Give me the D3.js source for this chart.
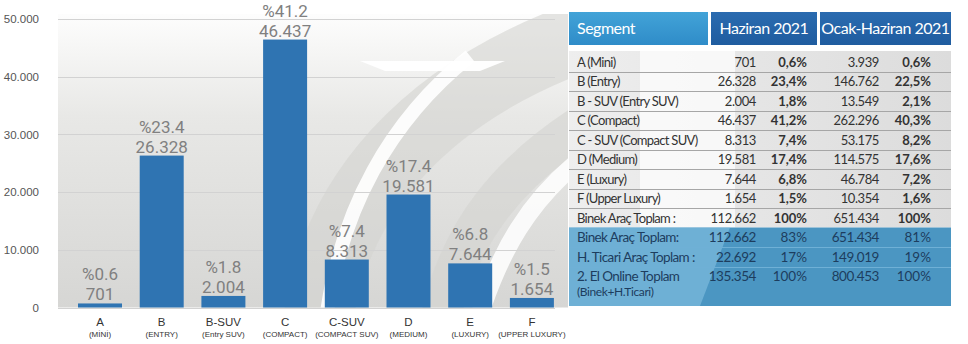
<!DOCTYPE html>
<html lang="tr">
<head>
<meta charset="utf-8">
<script src="https://cdn.jsdelivr.net/npm/d3@7"></script>
<style>
  html, body { margin: 0; padding: 0; background: #ffffff; }
  svg { display: block; }
</style>
</head>
<body>
<svg id="chart" width="968" height="344"></svg>
<script>
// Segment sales, June 2021
const categories = ["A", "B", "B-SUV", "C", "C-SUV", "D", "E", "F"];
const subLabels = ["(MİNİ)", "(ENTRY)", "(Entry SUV)", "(COMPACT)", "(COMPACT SUV)", "(MEDIUM)", "(LUXURY)", "(UPPER LUXURY)"];
const units = [701, 26328, 2004, 46437, 8313, 19581, 7644, 1654];
const shares = [0.6, 23.4, 1.8, 41.2, 7.4, 17.4, 6.8, 1.5];
const yTicks = [0, 10000, 20000, 30000, 40000, 50000];

// Summary table
const tableHeaders = ["Segment", "Haziran 2021", "Ocak-Haziran 2021"];
const segments = ["A (Mini)", "B (Entry)", "B - SUV (Entry SUV)", "C (Compact)", "C - SUV (Compact SUV)", "D (Medium)", "E (Luxury)", "F (Upper Luxury)", "Binek Araç Toplam :"];
const juneUnits = [701, 26328, 2004, 46437, 8313, 19581, 7644, 1654, 112662];
const juneShares = [0.6, 23.4, 1.8, 41.2, 7.4, 17.4, 6.8, 1.5, 100];
const ytdUnits = [3939, 146762, 13549, 262296, 53175, 114575, 46784, 10354, 651434];
const ytdShares = [0.6, 22.5, 2.1, 40.3, 8.2, 17.6, 7.2, 1.6, 100];
const totalLabels = ["Binek Araç Toplam:", "H. Ticari Araç Toplam :", "2. El Online Toplam"];
const totalNote = "(Binek+H.Ticari)";
const totalJuneUnits = [112662, 22692, 135354];
const totalJuneShares = [83, 17, 100];
const totalYtdUnits = [651434, 149019, 800453];
const totalYtdShares = [81, 19, 100];

const tr = d3.formatLocale({ decimal: ",", thousands: ".", grouping: [3], currency: ["", ""] });
const fmtInt = tr.format(",d");
const fmtPct = v => (Number.isInteger(v) && v >= 10 ? tr.format("d")(v) : tr.format(".1f")(v)) + "%";
const fmtBarPct = v => "%" + d3.format(".1f")(v);

const svg = d3.select("#chart");
const defs = svg.append("defs");

// ---------- bar chart ----------
const plot = { left: 58, right: 568, top: 14, bottom: 307.5 };

const x = d3.scaleBand()
  .domain(categories)
  .range([59.5, 572.4])
  .paddingInner(0.287)
  .paddingOuter(0.3);

const y = d3.scaleLinear()
  .domain([0, 50000])
  .range([plot.bottom, 19]);

const bg = defs.append("linearGradient").attr("id", "plotBg")
  .attr("x1", 0).attr("y1", 0).attr("x2", 0).attr("y2", 1);
bg.append("stop").attr("offset", "0%").attr("stop-color", "#fdfdfd");
bg.append("stop").attr("offset", "12%").attr("stop-color", "#f6f6f5");
bg.append("stop").attr("offset", "35%").attr("stop-color", "#e8e8e6");
bg.append("stop").attr("offset", "100%").attr("stop-color", "#d6d6d4");

defs.append("clipPath").attr("id", "plotClip")
  .append("rect")
  .attr("x", plot.left).attr("y", plot.top)
  .attr("width", plot.right - plot.left).attr("height", plot.bottom - plot.top);

svg.append("rect")
  .attr("x", plot.left).attr("y", plot.top)
  .attr("width", plot.right - plot.left).attr("height", plot.bottom - plot.top)
  .attr("fill", "url(#plotBg)");

// faint logo swooshes in the background
const mark = svg.append("g").attr("clip-path", "url(#plotClip)");
mark.append("path")
  .attr("d", "M 318 320 C 335 200, 420 90, 600 30")
  .attr("fill", "none").attr("stroke", "#d3d3d1").attr("stroke-width", 70).attr("opacity", 0.6);
mark.append("path")
  .attr("d", "M 326 320 C 340 210, 390 120, 470 56")
  .attr("fill", "none").attr("stroke", "#ffffff").attr("stroke-width", 14).attr("opacity", 0.9);
mark.append("path")
  .attr("d", "M 440 320 C 460 230, 510 170, 590 120")
  .attr("fill", "none").attr("stroke", "#d3d3d1").attr("stroke-width", 40).attr("opacity", 0.6);
mark.append("path")
  .attr("d", "M 478 320 C 500 250, 530 200, 580 160")
  .attr("fill", "none").attr("stroke", "#ffffff").attr("stroke-width", 18).attr("opacity", 0.85);
mark.append("path")
  .attr("d", "M 360 61 L 505 61 L 480 71 L 385 71 Z")
  .attr("fill", "#ffffff").attr("opacity", 0.95);

// gridlines
svg.append("g")
  .selectAll("line")
  .data(yTicks)
  .join("line")
  .attr("x1", plot.left).attr("x2", 555)
  .attr("y1", d => Math.round(y(d)) + 0.5).attr("y2", d => Math.round(y(d)) + 0.5)
  .attr("stroke", "#d2d2d2").attr("stroke-width", 1);

// y axis labels
const yAxis = d3.axisLeft(y).tickValues(yTicks).tickFormat(fmtInt).tickSize(0).tickPadding(0);
const yg = svg.append("g").attr("transform", "translate(39,0)").call(yAxis);
yg.select(".domain").remove();
yg.selectAll("text")
  .attr("font-family", "'Liberation Sans', Arial, sans-serif")
  .attr("font-size", 11.5)
  .attr("fill", "#555555");

// bars
svg.append("g")
  .selectAll("rect")
  .data(categories)
  .join("rect")
  .attr("x", d => x(d))
  .attr("width", x.bandwidth())
  .attr("y", (d, i) => y(units[i]))
  .attr("height", (d, i) => y(0) - y(units[i]))
  .attr("fill", "#2f74b2");

// value labels
const labels = svg.append("g")
  .attr("font-family", "Roboto, sans-serif")
  .attr("font-size", 17)
  .attr("fill", "#808080")
  .attr("text-anchor", "middle");
labels.selectAll("text.pct")
  .data(categories)
  .join("text")
  .attr("class", "pct")
  .attr("x", d => x(d) + x.bandwidth() / 2)
  .attr("y", (d, i) => y(units[i]) - 23)
  .text((d, i) => fmtBarPct(shares[i]));
labels.selectAll("text.val")
  .data(categories)
  .join("text")
  .attr("class", "val")
  .attr("x", d => x(d) + x.bandwidth() / 2)
  .attr("y", (d, i) => y(units[i]) - 3)
  .text((d, i) => fmtInt(units[i]));

// category labels
const xl = svg.append("g")
  .attr("font-family", "'Liberation Sans', Arial, sans-serif")
  .attr("fill", "#333333")
  .attr("text-anchor", "middle");
xl.selectAll("text.cat")
  .data(categories)
  .join("text")
  .attr("class", "cat")
  .attr("x", d => x(d) + x.bandwidth() / 2)
  .attr("y", 326)
  .attr("font-size", 11.5)
  .text(d => d);
xl.selectAll("text.sub")
  .data(categories)
  .join("text")
  .attr("class", "sub")
  .attr("x", d => x(d) + x.bandwidth() / 2)
  .attr("y", 336.5)
  .attr("font-size", 8)
  .text((d, i) => subLabels[i]);

// ---------- table ----------
const T = { left: 569, right: 951, headTop: 12, headBottom: 45, bodyTop: 52, rowH: 19.5 };
const col = { seg: 577, junU: 756, junP: 807, ytdU: 879, ytdP: 931 };
const cells = [[569, 708], [711, 817], [820, 951]];
const tFont = "Lato, 'Noto Sans', sans-serif";

const hg1 = defs.append("linearGradient").attr("id", "headLight").attr("x1", 0).attr("y1", 0).attr("x2", 0).attr("y2", 1);
hg1.append("stop").attr("offset", "0%").attr("stop-color", "#42a3d8");
hg1.append("stop").attr("offset", "100%").attr("stop-color", "#2f8cc8");
const hg2 = defs.append("linearGradient").attr("id", "headDark").attr("x1", 0).attr("y1", 0).attr("x2", 0).attr("y2", 1);
hg2.append("stop").attr("offset", "0%").attr("stop-color", "#2a6bb0");
hg2.append("stop").attr("offset", "100%").attr("stop-color", "#1f5c9f");

svg.append("g").selectAll("rect")
  .data(cells)
  .join("rect")
  .attr("x", d => d[0]).attr("y", T.headTop)
  .attr("width", d => d[1] - d[0]).attr("height", T.headBottom - T.headTop)
  .attr("fill", (d, i) => i === 0 ? "url(#headLight)" : "url(#headDark)");

svg.append("g")
  .attr("font-family", tFont).attr("font-size", 16).attr("fill", "#ffffff")
  .selectAll("text")
  .data(tableHeaders)
  .join("text")
  .attr("x", (d, i) => i === 0 ? col.seg : (cells[i][0] + cells[i][1]) / 2)
  .attr("y", 34)
  .attr("text-anchor", (d, i) => i === 0 ? "start" : "middle")
  .attr("letter-spacing", -0.5)
  .text(d => d);

// body background
const bodyBottom = T.bodyTop + T.rowH * segments.length;
const bodyBg = defs.append("linearGradient").attr("id", "bodyBg").attr("x1", 0).attr("y1", 0).attr("x2", 1).attr("y2", 0);
bodyBg.append("stop").attr("offset", "0%").attr("stop-color", "#eeeeee");
bodyBg.append("stop").attr("offset", "100%").attr("stop-color", "#dcdcdc");
svg.append("rect")
  .attr("x", T.left).attr("y", T.bodyTop - 1)
  .attr("width", T.right - T.left).attr("height", bodyBottom - T.bodyTop + 1)
  .attr("fill", "url(#bodyBg)");
svg.append("path")
  .attr("d", `M 640 ${T.bodyTop - 1} L 735 ${T.bodyTop - 1} L 735 ${bodyBottom} L 640 ${bodyBottom} Z`)
  .attr("fill", "#ffffff").attr("opacity", 0.7);

// blue totals block
const blueTop = bodyBottom;
const blueBottom = 306;
svg.append("rect")
  .attr("x", T.left).attr("y", blueTop)
  .attr("width", T.right - T.left).attr("height", blueBottom - blueTop)
  .attr("fill", "#4b96c2");
svg.append("path")
  .attr("d", `M ${T.left} ${blueTop} L 730 ${blueTop} L 700 ${blueBottom} L ${T.left} ${blueBottom} Z`)
  .attr("fill", "#8cc6e6").attr("opacity", 0.55);

// row separators
svg.append("g").selectAll("line")
  .data(d3.range(1, segments.length))
  .join("line")
  .attr("x1", T.left).attr("x2", T.right)
  .attr("y1", i => Math.round(T.bodyTop + T.rowH * i) + 0.5)
  .attr("y2", i => Math.round(T.bodyTop + T.rowH * i) + 0.5)
  .attr("stroke", "#a6a6a6");
svg.append("g").selectAll("line")
  .data([1, 2])
  .join("line")
  .attr("x1", T.left).attr("x2", T.right)
  .attr("y1", i => Math.round(blueTop + T.rowH * i) + 0.5)
  .attr("y2", i => Math.round(blueTop + T.rowH * i) + 0.5)
  .attr("stroke", "#6fb0d6");

// segment rows
const body = svg.append("g").attr("font-family", tFont).attr("font-size", 13).attr("fill", "#333333");
const rowY = i => T.bodyTop + T.rowH * i + 14.5;
body.selectAll("text.seg").data(segments).join("text").attr("class", "seg")
  .attr("x", col.seg).attr("y", (d, i) => rowY(i)).attr("letter-spacing", -0.7).text(d => d);
body.selectAll("text.ju").data(juneUnits).join("text").attr("class", "ju")
  .attr("x", col.junU).attr("y", (d, i) => rowY(i)).attr("text-anchor", "end").attr("letter-spacing", -0.4).text(d => fmtInt(d));
body.selectAll("text.jp").data(juneShares).join("text").attr("class", "jp")
  .attr("x", col.junP).attr("y", (d, i) => rowY(i)).attr("text-anchor", "end").attr("font-weight", 700).text(d => fmtPct(d));
body.selectAll("text.yu").data(ytdUnits).join("text").attr("class", "yu")
  .attr("x", col.ytdU).attr("y", (d, i) => rowY(i)).attr("text-anchor", "end").attr("letter-spacing", -0.4).text(d => fmtInt(d));
body.selectAll("text.yp").data(ytdShares).join("text").attr("class", "yp")
  .attr("x", col.ytdP).attr("y", (d, i) => rowY(i)).attr("text-anchor", "end").attr("font-weight", 700).text(d => fmtPct(d));

// totals rows
const tot = svg.append("g").attr("font-family", tFont).attr("font-size", 13.5).attr("fill", "#1d3d5e");
const totY = i => blueTop + T.rowH * i + 14.5;
tot.selectAll("text.tl").data(totalLabels).join("text").attr("class", "tl")
  .attr("x", col.seg).attr("y", (d, i) => totY(i)).attr("letter-spacing", -0.6).text(d => d);
tot.append("text").attr("x", col.seg).attr("y", totY(2) + 15).attr("font-size", 12).attr("letter-spacing", -0.4).text(totalNote);
tot.selectAll("text.tju").data(totalJuneUnits).join("text").attr("class", "tju")
  .attr("x", col.junU).attr("y", (d, i) => totY(i)).attr("text-anchor", "end").attr("letter-spacing", -0.4).text(d => fmtInt(d));
tot.selectAll("text.tjp").data(totalJuneShares).join("text").attr("class", "tjp")
  .attr("x", col.junP).attr("y", (d, i) => totY(i)).attr("text-anchor", "end").text(d => fmtPct(d));
tot.selectAll("text.tyu").data(totalYtdUnits).join("text").attr("class", "tyu")
  .attr("x", col.ytdU).attr("y", (d, i) => totY(i)).attr("text-anchor", "end").attr("letter-spacing", -0.4).text(d => fmtInt(d));
tot.selectAll("text.typ").data(totalYtdShares).join("text").attr("class", "typ")
  .attr("x", col.ytdP).attr("y", (d, i) => totY(i)).attr("text-anchor", "end").text(d => fmtPct(d));
</script>
</body>
</html>
